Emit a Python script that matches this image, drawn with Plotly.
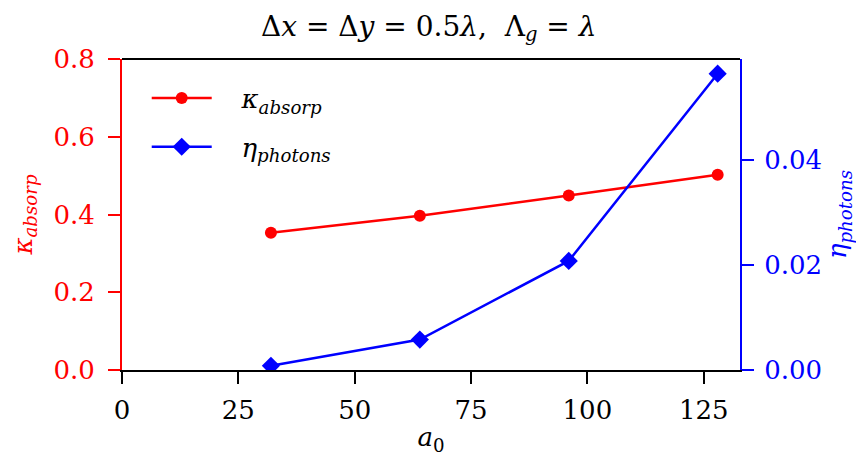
import plotly.graph_objects as go

a0 = [32, 64, 96, 128]
kappa_absorp = [0.353, 0.397, 0.449, 0.502]
eta_photons = [0.0008, 0.0058, 0.0208, 0.0565]

FONT = "DejaVu Serif"
FS = 26

fig = go.Figure()
fig.add_trace(go.Scatter(
    x=a0, y=kappa_absorp, mode="lines+markers",
    name="&nbsp;&nbsp;&nbsp;<i>κ<sub>absorp</sub></i>", legendgroup="k",
    line=dict(color="red", width=2.5),
    marker=dict(symbol="circle", size=12, color="red"),
    yaxis="y"))
fig.add_trace(go.Scatter(
    x=a0, y=eta_photons, mode="lines+markers",
    name="&nbsp;&nbsp;&nbsp;<i>η<sub>photons</sub></i>", legendgroup="e",
    line=dict(color="blue", width=2.5),
    marker=dict(symbol="diamond", size=14, color="blue"),
    yaxis="y2"))

fig.update_layout(
    width=864, height=468,
    margin=dict(l=114, r=132, t=51, b=106, autoexpand=False),
    plot_bgcolor="white", paper_bgcolor="white",
    font=dict(family=FONT, size=FS, color="black"),
    title=dict(text="Δ<i>x</i> = Δ<i>y</i> = 0.5<i>λ</i>,  Λ<sub><i>g</i></sub> = <i>λ</i>",
               x=0.487, xanchor="center", y=0.962, yanchor="middle",
               font=dict(size=28)),
    xaxis=dict(range=[0, 132.8], tickvals=[0, 25, 50, 75, 100, 125],
               showgrid=False, zeroline=False, automargin=False,
               showline=True, linecolor="black", linewidth=2,
               ticks="outside", ticklen=12, tickwidth=2, tickcolor="black",
               ticklabelstandoff=4,
               tickfont=dict(size=FS, color="black"),
               title=dict(text="<i>a</i><sub>0</sub>", font=dict(size=FS), standoff=4)),
    yaxis=dict(range=[0, 0.8], tickvals=[0, 0.2, 0.4, 0.6, 0.8],
               ticktext=["0.0", "0.2", "0.4", "0.6", "0.8"],
               showgrid=False, zeroline=False, automargin=False,
               showline=True, linecolor="red", linewidth=2,
               ticks="outside", ticklen=12, tickwidth=2, tickcolor="red",
               ticklabelstandoff=8,
               tickfont=dict(size=FS, color="red"),
               title=dict(text="<i>κ<sub>absorp</sub></i>", font=dict(size=FS, color="red"), standoff=14)),
    yaxis2=dict(range=[0, 0.0593], tickvals=[0, 0.02, 0.04],
                ticktext=["0.00", "0.02", "0.04"],
                overlaying="y", side="right",
                showgrid=False, zeroline=False, automargin=False,
                showline=True, linecolor="blue", linewidth=2,
                ticks="outside", ticklen=12, tickwidth=2, tickcolor="blue",
                ticklabelstandoff=5,
                tickfont=dict(size=FS, color="blue"),
                title=dict(text="<i>η<sub>photons</sub></i>", font=dict(size=FS, color="blue"), standoff=4)),
    legend=dict(x=0.04, y=0.95, xanchor="left", yanchor="top",
                bgcolor="rgba(0,0,0,0)", borderwidth=0,
                font=dict(size=FS), tracegroupgap=12, itemwidth=60),
    showlegend=True,
    shapes=[dict(type="line", xref="paper", yref="paper", x0=0, x1=1, y0=1, y1=1,
                 line=dict(color="black", width=2), layer="above")],
)

fig.write_html("out.html")
